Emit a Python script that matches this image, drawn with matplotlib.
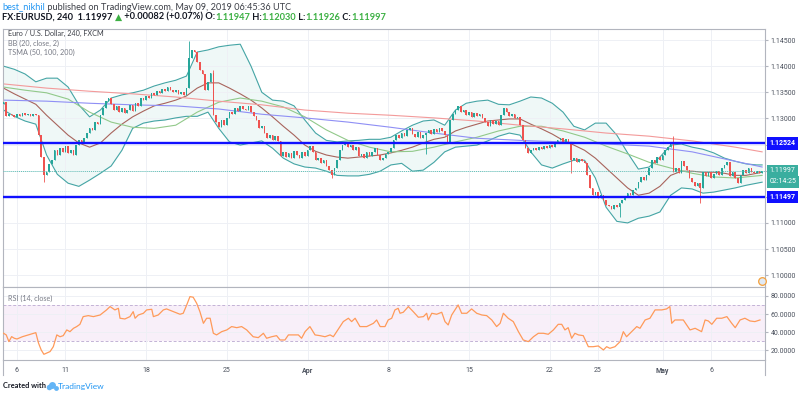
import matplotlib
matplotlib.use('Agg')
import matplotlib.pyplot as plt
import matplotlib.transforms as mtransforms
from matplotlib.lines import Line2D
import numpy as np

plt.rcParams['font.family'] = ['Lato', 'DejaVu Sans']

# ---------------- data (EURUSD 4h, FXCM) ----------------
first_open = 1.1327
closes = [
    1.1331, 1.1304, 1.1308, 1.1306, 1.1303, 1.1308, 1.1304, 1.1310, 1.1306, 1.1308,
    1.1304, 1.1308, 1.1306, 1.1268, 1.1226, 1.1191, 1.1197, 1.1213, 1.1220, 1.1239,
    1.1230, 1.1243, 1.1236, 1.1247, 1.1234, 1.1239, 1.1230, 1.1249, 1.1258, 1.1253,
    1.1262, 1.1272, 1.1281, 1.1278, 1.1293, 1.1289, 1.1306, 1.1320, 1.1333, 1.1339,
    1.1327, 1.1316, 1.1324, 1.1312, 1.1320, 1.1310, 1.1316, 1.1326, 1.1314, 1.1329,
    1.1324, 1.1339, 1.1335, 1.1343, 1.1339, 1.1349, 1.1345, 1.1352, 1.1349, 1.1356,
    1.1352, 1.1360, 1.1354, 1.1350, 1.1354, 1.1347, 1.1350, 1.1345, 1.1358, 1.1416,
    1.1431, 1.1427, 1.1408, 1.1393, 1.1385, 1.1354, 1.1370, 1.1387, 1.1306, 1.1293,
    1.1283, 1.1297, 1.1287, 1.1301, 1.1312, 1.1308, 1.1320, 1.1314, 1.1324, 1.1318,
    1.1316, 1.1324, 1.1312, 1.1304, 1.1297, 1.1281, 1.1285, 1.1272, 1.1262, 1.1268,
    1.1258, 1.1266, 1.1257, 1.1228, 1.1236, 1.1226, 1.1234, 1.1224, 1.1237, 1.1230,
    1.1224, 1.1236, 1.1228, 1.1239, 1.1247, 1.1236, 1.1220, 1.1224, 1.1214, 1.1220,
    1.1209, 1.1201, 1.1191, 1.1205, 1.1220, 1.1239, 1.1249, 1.1253, 1.1245, 1.1249,
    1.1239, 1.1245, 1.1228, 1.1232, 1.1224, 1.1236, 1.1228, 1.1236, 1.1243, 1.1230,
    1.1220, 1.1224, 1.1232, 1.1236, 1.1243, 1.1258, 1.1268, 1.1262, 1.1272, 1.1266,
    1.1278, 1.1281, 1.1270, 1.1264, 1.1274, 1.1262, 1.1268, 1.1272, 1.1278, 1.1270,
    1.1280, 1.1274, 1.1281, 1.1276, 1.1268, 1.1255, 1.1297, 1.1308, 1.1316, 1.1324,
    1.1312, 1.1316, 1.1306, 1.1312, 1.1303, 1.1310, 1.1304, 1.1308, 1.1301, 1.1293,
    1.1285, 1.1297, 1.1289, 1.1295, 1.1287, 1.1306, 1.1320, 1.1312, 1.1304, 1.1308,
    1.1301, 1.1303, 1.1287, 1.1258, 1.1243, 1.1234, 1.1239, 1.1243, 1.1239, 1.1245,
    1.1241, 1.1247, 1.1243, 1.1249, 1.1245, 1.1255, 1.1258, 1.1262, 1.1255, 1.1260,
    1.1253, 1.1220, 1.1224, 1.1216, 1.1222, 1.1218, 1.1214, 1.1191, 1.1167, 1.1153,
    1.1159, 1.1147, 1.1153, 1.1144, 1.1134, 1.1132, 1.1126, 1.1134, 1.1130, 1.1138,
    1.1144, 1.1151, 1.1157, 1.1153, 1.1163, 1.1167, 1.1178, 1.1188, 1.1182, 1.1191,
    1.1205, 1.1220, 1.1214, 1.1226, 1.1220, 1.1230, 1.1239, 1.1245, 1.1251, 1.1197,
    1.1205, 1.1195, 1.1218, 1.1209, 1.1201, 1.1186, 1.1178, 1.1170, 1.1176, 1.1167,
    1.1197, 1.1190, 1.1197, 1.1186, 1.1193, 1.1199, 1.1191, 1.1205, 1.1211, 1.1216,
    1.1190, 1.1197, 1.1186, 1.1176, 1.1191, 1.1201, 1.1195, 1.1205, 1.1197, 1.1195,
    1.1199, 1.1195, 1.11997,
]
wick_high = {70: 1.1448, 79: 1.1393, 250: 1.1266}
wick_low = {16: 1.1178, 123: 1.1186, 158: 1.1232, 212: 1.1195, 230: 1.1111, 260: 1.1138}

# Bollinger Bands (20, close, 2), read every 4 bars
bb_upper = [
    1.1400, 1.1394, 1.1385, 1.1370, 1.1377, 1.1377, 1.1360, 1.1326, 1.1303, 1.1316,
    1.1339, 1.1345, 1.1349, 1.1354, 1.1362, 1.1368, 1.1373, 1.1381, 1.1427, 1.1431,
    1.1437, 1.1440, 1.1442, 1.1400, 1.1350, 1.1335, 1.1333, 1.1324, 1.1297, 1.1272,
    1.1258, 1.1255, 1.1257, 1.1258, 1.1260, 1.1260, 1.1264, 1.1276, 1.1287, 1.1295,
    1.1297, 1.1287, 1.1316, 1.1329, 1.1333, 1.1335, 1.1327, 1.1326, 1.1333, 1.1341,
    1.1339, 1.1329, 1.1312, 1.1285, 1.1278, 1.1291, 1.1291, 1.1268, 1.1234, 1.1203,
    1.1207, 1.1226, 1.1249, 1.1251, 1.1245, 1.1241, 1.1234, 1.1224, 1.1218, 1.1213,
    1.1211, 1.1211,
]
bb_lower = [
    1.1316, 1.1304, 1.1295, 1.1289, 1.1230, 1.1193, 1.1176, 1.1170, 1.1182, 1.1195,
    1.1209, 1.1239, 1.1281, 1.1291, 1.1295, 1.1297, 1.1301, 1.1304, 1.1304, 1.1312,
    1.1281, 1.1255, 1.1249, 1.1253, 1.1257, 1.1243, 1.1224, 1.1213, 1.1207, 1.1205,
    1.1199, 1.1191, 1.1190, 1.1190, 1.1193, 1.1199, 1.1211, 1.1214, 1.1199, 1.1201,
    1.1216, 1.1236, 1.1245, 1.1247, 1.1249, 1.1257, 1.1266, 1.1272, 1.1268, 1.1236,
    1.1211, 1.1205, 1.1213, 1.1220, 1.1220, 1.1186, 1.1130, 1.1103, 1.1100, 1.1109,
    1.1113, 1.1121, 1.1153, 1.1167, 1.1165, 1.1157, 1.1159, 1.1163, 1.1167, 1.1172,
    1.1176, 1.1178,
]
bb_basis = [
    1.1358, 1.1347, 1.1337, 1.1327, 1.1306, 1.1287, 1.1268, 1.1253, 1.1245, 1.1253,
    1.1272, 1.1289, 1.1303, 1.1314, 1.1324, 1.1329, 1.1335, 1.1343, 1.1358, 1.1368,
    1.1368, 1.1358, 1.1347, 1.1335, 1.1320, 1.1303, 1.1285, 1.1268, 1.1249, 1.1237,
    1.1230, 1.1226, 1.1224, 1.1226, 1.1228, 1.1230, 1.1234, 1.1239, 1.1245, 1.1253,
    1.1260, 1.1264, 1.1276, 1.1283, 1.1289, 1.1295, 1.1297, 1.1299, 1.1299, 1.1289,
    1.1280, 1.1270, 1.1258, 1.1249, 1.1239, 1.1224, 1.1205, 1.1186, 1.1167, 1.1153,
    1.1157, 1.1170, 1.1191, 1.1199, 1.1199, 1.1197, 1.1197, 1.1195, 1.1191, 1.1191,
    1.1195, 1.1197,
]
# Triple SMA (50, 100, 200)
sma50 = [
    1.1360, 1.1354, 1.1349, 1.1337, 1.1312, 1.1293, 1.1283, 1.1281, 1.1287, 1.1312,
    1.1331, 1.1339, 1.1333, 1.1322, 1.1303, 1.1278, 1.1258, 1.1245, 1.1236, 1.1237,
    1.1245, 1.1255, 1.1264, 1.1276, 1.1285, 1.1285, 1.1276, 1.1264, 1.1247, 1.1232,
    1.1216, 1.1205, 1.1195, 1.1188, 1.1186, 1.1190, 1.1191,
]
sma100 = [
    1.1335, 1.1333, 1.1329, 1.1326, 1.1324, 1.1318, 1.1308, 1.1301, 1.1293, 1.1283,
    1.1272, 1.1262, 1.1258, 1.1255, 1.1251, 1.1247, 1.1236, 1.1218, 1.1207,
]
sma200 = [
    1.1366, 1.1358, 1.1352, 1.1347, 1.1341, 1.1333, 1.1326, 1.1316, 1.1310, 1.1306,
    1.1301, 1.1295, 1.1287, 1.1280, 1.1272, 1.1266, 1.1257, 1.1245, 1.1236,
]
bb_bars = list(range(1, 282, 4)) + [283]
sma50_bars = list(range(1, 282, 8)) + [283]
sma_long_bars = list(range(1, 274, 16)) + [283]

# RSI (14, close)
rsi_bar = [
    1, 2, 3, 4, 5, 6, 8, 11, 13, 14, 15, 16, 18.3, 19.5, 20.8, 22, 23.2, 24.5, 25.7, 27,
    28.2, 29.4, 30.6, 32.5, 34.4, 36.9, 39.3, 40.6, 42.4, 43.7, 44.3, 46.1, 48, 49.2, 49.9, 51.1,
    53, 54.2, 56.1, 56.7, 58.5, 60.4, 61.6, 64.1, 66.6, 67.8, 69.1, 70.3, 71.5, 72.8, 74, 75.3,
    76.5, 77.8, 79, 80.2, 82.1, 84, 85.8, 87.7, 89.5, 91.4, 93.8, 95.7, 97.6, 98.8, 100.7, 102.5,
    103.8, 105.6, 106.9, 108.7, 110.6, 111.8, 113.1, 114.9, 116.8, 118.6, 120.5, 122.4, 123.6,
    126.1, 127.3, 129.2, 130.4, 131.7, 133.5, 136, 138.5, 139.7, 141, 142.8, 144, 145.3, 146.5,
    147.7, 148.4, 149.6, 151.5, 153.3, 155.2, 157.1, 158.3, 158.9, 160.2, 162, 163.9, 165.1,
    166.3, 167.6, 168.8, 170, 171.3, 173.2, 175, 176.9, 178.8, 180.6, 182.5, 184.3, 185.6,
    186.8, 188.6, 190.5, 192.4, 194.2, 196.1, 198, 199.8, 201.7, 203.5, 205.4, 207.2, 208.5,
    209.7, 210.9, 212.2, 213.4, 214.7, 216.5, 218.4, 220.2, 222.1, 224, 225.2, 226.4, 228.3,
    230.2, 231.4, 232.6, 234.5, 236.4, 237.6, 239.5, 241.3, 243.2, 245.7, 247.5, 248.7, 249.4,
    250.6, 253.7, 256.2, 258.1, 260.5, 261.8, 263, 264.3, 266.1, 268, 269.9, 271.7, 273, 274.8,
    276.6, 278.5, 280.3, 282.2,
]
rsi_val = [
    38.8, 37, 29.6, 35.1, 33.3, 32.5, 35, 37.7, 39.5, 28, 20.4, 15.6, 18.6, 24, 37, 35, 36.2, 42.5, 40.6, 44.3,
    46.2, 48.7, 57.2, 58.3, 57.2, 59, 64.6, 68.3, 64.6, 66.4, 55.4, 54.6, 57.2, 62.7, 55.4, 59,
    60.9, 64.6, 65.3, 57.2, 59, 64.6, 65.7, 62.7, 59.8, 60.9, 70.1, 79.3, 78.6, 71.9, 62.7, 49.8,
    55.4, 55.4, 38.8, 37, 40.6, 42.5, 46.2, 45, 46.2, 42.5, 35, 34, 38.8, 33.3, 35, 36.2,
    31.4, 31.4, 37, 37, 37, 33.3, 40.6, 46.2, 37, 36.2, 35, 37, 35,
    46.2, 51.7, 55.4, 51.7, 55.4, 46.2, 46.2, 49.8, 53.5, 46.2, 46.2, 53.5, 55.4, 64.6,
    66.4, 60.9, 62, 68.3, 62.7, 56.5, 57.2, 60.9, 53.5, 60.9, 59.8, 62, 51.7,
    48, 59, 64.6, 70.1, 60.9, 60.9, 65.7, 60.9, 59, 58.3, 53.5, 46.2, 49.8,
    60.9, 55.4, 51.7, 40.6, 31.4, 29.6, 35, 38.8, 38.8, 37.7, 42.5, 48.7, 48.7,
    42.5, 45, 33.3, 38.8, 37, 36.2, 24, 24, 24.8, 20.4, 24, 22.2, 24,
    29.6, 40.6, 35, 40.6, 46.2, 44.3, 53.5, 55.4, 64.6, 64.6, 65.7, 68.3, 49.8,
    53.5, 53.5, 42.5, 44.3, 40.6, 53.5, 52.4, 48.7, 55.4, 55.4, 57.2, 49.8, 45, 53.5,
    55.4, 52.4, 51.7, 53.5,
]

support_levels = [1.12524, 1.11497]
last_price = 1.11997
countdown = '02:14:25'
day_ticks = [6, 24, 54, 84, 114, 144, 174, 204, 222, 246, 264]
day_labels = ['6', '11', '18', '25', 'Apr', '8', '15', '22', '25', 'May', '6']
price_ticks = [1.100, 1.105, 1.110, 1.115, 1.120, 1.125, 1.130, 1.135, 1.140, 1.145]
hidden_price_ticks = [1.115, 1.120, 1.125]   # covered by the level labels
rsi_ticks = [20, 40, 60, 80]

# ---------------- figure ----------------
W, H = 800, 396
fig = plt.figure(figsize=(W / 100, H / 100), dpi=100)
fig.patch.set_facecolor('white')


def rect(l, t, r, b):
    return [l / W, 1 - b / H, (r - l) / W, (b - t) / H]


ax = fig.add_axes(rect(3, 29, 765, 287))
axr = fig.add_axes(rect(3, 287, 765, 360), sharex=ax)

UP = '#26a69a'
DOWN = '#ef5350'
GRID = '#eef0f5'
SPINE = '#b2b5be'
TXT = '#4c525e'
FS = 5.0
LFS = 5.2
AXFONT = ['Roboto', 'DejaVu Sans']

bars = np.arange(1, len(closes) + 1)
c = np.array(closes)
o = np.concatenate([[first_open], c[:-1]])
hi = np.maximum(o, c)
lo = np.minimum(o, c)
for k, v in wick_high.items():
    hi[k - 1] = max(hi[k - 1], v)
for k, v in wick_low.items():
    lo[k - 1] = min(lo[k - 1], v)
up = c >= o
cols = np.where(up, UP, DOWN)

# indicators
ax.fill_between(bb_bars, bb_lower, bb_upper, color='#26a69a', alpha=0.07, lw=0, zorder=1)
ax.plot(bb_bars, bb_upper, color='#45a5a5', lw=0.8, zorder=2)
ax.plot(bb_bars, bb_lower, color='#45a5a5', lw=0.8, zorder=2)
ax.plot(bb_bars, bb_basis, color='#a8645c', lw=0.8, zorder=2)
ax.plot(sma50_bars, sma50, color='#92c98a', lw=0.8, zorder=2)
ax.plot(sma_long_bars, sma100, color='#8f8ff5', lw=0.8, zorder=2)
ax.plot(sma_long_bars, sma200, color='#f39a9a', lw=0.8, zorder=2)

# candles
ax.vlines(bars, lo, hi, colors=cols, lw=0.6, zorder=3)
body = np.maximum(np.abs(c - o), 0.00005)
ax.bar(bars, body, bottom=np.minimum(o, c), width=0.6, color=cols, lw=0, zorder=3)

# horizontal levels
for lvl in support_levels:
    ax.axhline(lvl, color='#1010ff', lw=1.7, zorder=4)
ax.axhline(last_price, color='#5fc2b6', lw=0.7, ls=(0, (1, 1)), zorder=4)

ax.set_xlim(0.8, 284.07)
ax.set_ylim(1.09774, 1.14711)
ax.set_yticks(price_ticks)
ax.yaxis.set_major_formatter(plt.FuncFormatter(
    lambda v, p: '' if any(abs(v - h) < 1e-9 for h in hidden_price_ticks) else f'{v:.5f}'))
ax.yaxis.tick_right()
ax.tick_params(axis='y', length=2, color=SPINE, labelsize=FS, labelcolor=TXT, pad=2)
for lab in ax.get_yticklabels():
    lab.set_family(AXFONT)
ax.tick_params(axis='x', length=0, labelbottom=False)
ax.set_xticks(day_ticks)
ax.grid(True, color=GRID, lw=0.7, zorder=0)
for s in ax.spines.values():
    s.set_color(SPINE)
    s.set_linewidth(0.8)

# price axis labels
trans = mtransforms.blended_transform_factory(ax.transAxes, ax.transData)
XB = 1 + 4.5 / 762
for lvl in support_levels:
    ax.text(XB, lvl, f'{lvl:.5f}', transform=trans, ha='left', va='center', fontsize=FS,
            family=AXFONT, color='white', fontweight='bold',
            bbox=dict(boxstyle='square,pad=0.35', fc='#1010ff', ec='none'), clip_on=False, zorder=6)
ax.text(XB, last_price, f'{last_price:.5f}', transform=trans, ha='left', va='center', fontsize=FS,
        family=AXFONT, color='white',
        bbox=dict(boxstyle='square,pad=0.35', fc='#3aae9f', ec='none'), clip_on=False, zorder=6)
ax.text(XB, last_price - 0.0021, countdown, transform=trans, ha='left', va='center', fontsize=FS,
        family=AXFONT, color='white',
        bbox=dict(boxstyle='square,pad=0.35', fc='#3aae9f', ec='none'), clip_on=False, zorder=6)

# legend texts inside main pane
ax.text(5 / 762, 1 - 4 / 258, 'Euro / U.S. Dollar, 240, FXCM', transform=ax.transAxes, ha='left',
        va='center', fontsize=LFS, color='#3c3f47')
ax.text(5 / 762, 1 - 14 / 258, 'BB (20, close, 2)', transform=ax.transAxes, ha='left', va='center',
        fontsize=LFS, color='#787b86')
ax.text(5 / 762, 1 - 23 / 258, 'TSMA (50, 100, 200)', transform=ax.transAxes, ha='left', va='center',
        fontsize=LFS, color='#787b86')

# RSI pane
axr.axhspan(30, 70, color='#9c27b0', alpha=0.07, lw=0, zorder=0)
axr.axhline(70, color='#c3b3d6', lw=0.7, ls=(0, (3, 2)), zorder=1)
axr.axhline(30, color='#c3b3d6', lw=0.7, ls=(0, (3, 2)), zorder=1)
axr.plot(rsi_bar, rsi_val, color='#ff9a5a', lw=0.9, zorder=3)
axr.set_ylim(9.3, 89.9)
axr.set_yticks(rsi_ticks)
axr.yaxis.set_major_formatter(plt.FuncFormatter(lambda v, p: f'{v:.4f}'))
axr.yaxis.tick_right()
axr.tick_params(axis='y', length=2, color=SPINE, labelsize=FS, labelcolor=TXT, pad=2)
for lab in axr.get_yticklabels():
    lab.set_family(AXFONT)
axr.set_xticks(day_ticks)
axr.set_xticklabels(day_labels)
axr.tick_params(axis='x', length=0, labelsize=FS, labelcolor=TXT, pad=5)
for lab in axr.get_xticklabels():
    lab.set_family(AXFONT)
    if lab.get_text() in ('Apr', 'May'):
        lab.set_fontweight('bold')
axr.grid(True, color=GRID, lw=0.7, zorder=0)
for s in axr.spines.values():
    s.set_color(SPINE)
    s.set_linewidth(0.8)
axr.text(5 / 762, 1 - 11 / 73, 'RSI (14, close)', transform=axr.transAxes, ha='left', va='center',
         fontsize=LFS, color='#787b86')

# frame lines for the time axis area
fig.add_artist(Line2D([3 / W, 3 / W], [1 - 360 / H, 1 - 375 / H], color=SPINE, lw=0.8))
fig.add_artist(Line2D([765 / W, 765 / W], [1 - 360 / H, 1 - 375 / H], color=SPINE, lw=0.8))

# event marker at the bottom right
ax.plot([762 / W], [1 - 281 / H], 'o', transform=fig.transFigure, ms=5.5, mfc='#dfe9f5',
        mec='#f5a03a', mew=0.9, clip_on=False, zorder=7)


# header texts
def chain(x, y, parts, size, weight='normal'):
    first = fig.text(x / W, 1 - y / H, parts[0][0], color=parts[0][1], fontsize=size,
                     fontweight=weight, ha='left', va='center')
    prev = first
    for s, col in parts[1:]:
        prev = ax.annotate(s, xy=(1, 0), xycoords=prev, ha='left', va='bottom', color=col,
                           fontsize=size, fontweight=weight, annotation_clip=False)


chain(2, 7, [('best_nikhil', '#2196f3'),
             (' published on TradingView.com, May 09, 2019 06:45:36 UTC', '#3c3f47')], 6.55)
GREEN = '#3cb043'
chain(2, 17, [('FX:EURUSD, 240  1.11997 ', '#131722'), ('▲', GREEN),
              (' +0.00082 (+0.07%) O:', '#131722'), ('1.11947', GREEN), (' H:', '#131722'),
              ('1.12030', GREEN), (' L:', '#131722'), ('1.11926', GREEN), (' C:', '#131722'),
              ('1.11997', GREEN)], 6.7, 'bold')

# footer
fig.text(3 / W, 1 - 386 / H, 'Created with', fontsize=5.3, color='#131722', ha='left', va='center',
         fontweight='bold')
for (cx, cy, ms) in [(48.5, 387, 4.0), (52, 385, 5.0), (55.5, 387.5, 3.5)]:
    ax.plot([cx / W], [1 - cy / H], 'o', transform=fig.transFigure, ms=ms, mfc='#64b5f6',
            mec='none', clip_on=False)
fig.text(58 / W, 1 - 386 / H, 'TradingView', fontsize=6.0, color='#2196f3', ha='left', va='center')

fig.savefig('out.png', dpi=100, facecolor='white')
